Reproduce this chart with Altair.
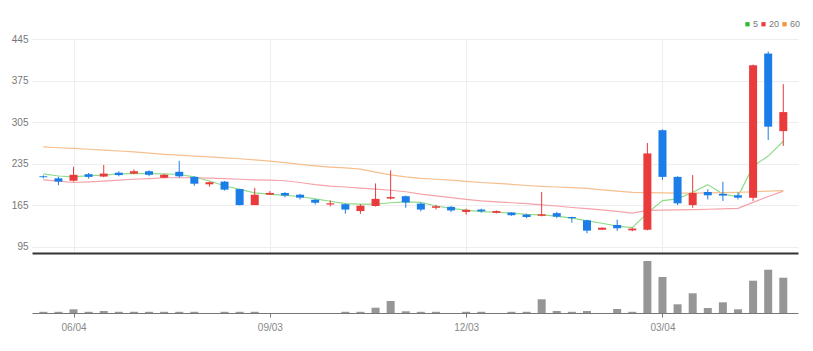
import altair as alt
import pandas as pd

dates = ["2018-05-21", "2018-05-28", "2018-06-04", "2018-06-11", "2018-06-18", "2018-06-25",
         "2018-07-02", "2018-07-09", "2018-07-16", "2018-07-23", "2018-07-30", "2018-08-06",
         "2018-08-13", "2018-08-20", "2018-08-27", "2018-09-03", "2018-09-10", "2018-09-17",
         "2018-09-24", "2018-10-01", "2018-10-08", "2018-10-15", "2018-10-22", "2018-10-29",
         "2018-11-05", "2018-11-12", "2018-11-19", "2018-11-26", "2018-12-03", "2018-12-10",
         "2018-12-17", "2018-12-24", "2018-12-31", "2019-01-07", "2019-01-14", "2019-01-21",
         "2019-01-28", "2019-02-04", "2019-02-11", "2019-02-18", "2019-02-25", "2019-03-04",
         "2019-03-11", "2019-03-18", "2019-03-25", "2019-04-01", "2019-04-08", "2019-04-15",
         "2019-04-22", "2019-04-29"]

opens = [214, 210.5, 206.5, 217.5, 213.5, 220, 218.5, 222.5, 211.5, 221.5,
         213, 200.5, 205, 192.5, 165.5, 183, 186, 183, 174.5, 166.5,
         167, 155.5, 164, 176.5, 180.5, 168, 161, 162.5, 154, 158,
         152.5, 153, 149.5, 147.5, 152, 145.5, 140, 124, 132, 123,
         124, 291.5, 213, 165.5, 187.5, 184.5, 182, 178, 420.5, 290]
closes = [212.5, 205, 216.5, 213, 218.5, 216, 222.5, 216.5, 216.5, 214,
          201.5, 204, 191.5, 165.5, 183, 186, 181.5, 178, 169.5, 168.5,
          158, 164.5, 176, 179, 170, 158, 163.5, 156.5, 157.5, 155,
          155.5, 148.5, 145.5, 150, 146, 143.5, 122.5, 127.5, 126.5, 126,
          252.5, 213, 168.5, 186, 182, 181.5, 178, 401, 297.5, 322]
highs = [215.5, 213, 230, 219.5, 233, 222.5, 225.5, 224, 218, 240,
         214, 205, 206, 193, 194.5, 189, 187.5, 184.5, 175.5, 173.5,
         168, 167, 202, 224, 181.5, 169.5, 166, 164, 159.5, 159.5,
         156.5, 153.5, 151, 187.5, 154, 146, 141, 128, 141, 127.5,
         270, 293, 214, 216, 192, 205, 187, 402, 424, 369]
lows = [210.5, 199, 205, 210, 212.5, 214, 217.5, 214, 210.5, 211.5,
        198, 196.5, 190, 165, 165.5, 182.5, 178.5, 175, 166.5, 163.5,
        151, 151, 163, 175, 161, 155, 158, 154, 149.5, 153,
        151.5, 147.5, 143.5, 146.5, 143.5, 136, 118, 123.5, 122, 121.5,
        123, 208, 165.5, 161, 175, 172.5, 175, 172.5, 275, 265]
volumes = [12, 12, 37, 12, 20, 12, 12, 12, 12, 12,
           12, 0, 12, 12, 12, 0, 0, 0, 0, 0,
           12, 12, 53, 120, 17, 12, 12, 0, 12, 12,
           0, 12, 12, 137, 20, 12, 20, 0, 40, 12,
           520, 360, 87, 197, 50, 107, 37, 323, 433, 353]
ma5 = [218, 214.5, 213, 215, 216, 218, 219, 218.5, 218, 217,
       213, 206, 198, 192, 186, 184, 182, 180, 176, 172,
       168, 167, 167, 169.5, 171, 170, 164, 160, 157, 154.5,
       153.5, 152, 150, 149, 147, 143.5, 139, 135, 130, 127.5,
       152, 173, 176, 187, 200, 184, 180, 231, 248, 273]
ma20 = [208, 206, 203.5, 204.5, 206, 207.5, 209, 210, 211.5, 211.5,
        211.5, 211, 210, 209, 208, 207.5, 206.5, 203.5, 200, 197.5,
        196, 194, 192.5, 190.5, 188, 184, 181, 178, 175, 172.5,
        171, 169.5, 168, 166, 164, 161.5, 159.5, 157.5, 155, 152,
        156.5, 157, 157.5, 158, 158.5, 159, 160, 170, 180, 189]
ma60 = [263.5, 262, 261, 259.5, 258, 256.5, 255, 253, 251, 249.5,
        248, 246.5, 245, 243.5, 241.5, 239.5, 237, 234, 231.5, 229.5,
        228, 226, 221, 216.5, 213, 210.5, 209, 207.5, 205.5, 203.5,
        202, 200.5, 198.5, 197, 196, 195, 193.5, 191, 189, 187,
        186.5, 186, 185.5, 185.5, 186, 186.5, 187, 188, 189, 190]
ma_names = ["5", "20", "60"]
y_ticks = [95, 165, 235, 305, 375, 445]

RED = "#e93a3c"
BLUE = "#1b7de8"
FONT = "Liberation Sans, Arial, sans-serif"

stamps = [d + "T00:00:00" for d in dates]
candles = pd.DataFrame({"date": stamps, "open": opens, "close": closes,
                        "high": highs, "low": lows, "volume": volumes})
candles["dir"] = ["up" if c >= o else "down" for o, c in zip(opens, closes)]

ma_rows = []
for name, series in zip(ma_names, [ma5, ma20, ma60]):
    for d, v in zip(stamps, series):
        ma_rows.append({"date": d, "ma": name, "value": v})
ma_df = pd.DataFrame(ma_rows)

x_domain = [alt.DateTime(year=2018, month=5, date=18, hours=1, minutes=40),
            alt.DateTime(year=2019, month=5, date=3, hours=12)]
x_ticks = [alt.DateTime(year=2018, month=6, date=4), alt.DateTime(year=2018, month=9, date=3),
           alt.DateTime(year=2018, month=12, date=3), alt.DateTime(year=2019, month=3, date=4)]

x_price = alt.X("date:T", scale=alt.Scale(domain=x_domain),
                axis=alt.Axis(values=x_ticks, labels=False, ticks=False, title=None,
                              domainColor="#333", domainWidth=2, grid=True,
                              gridColor="#eeeeee", minExtent=0, maxExtent=0))
y_scale = alt.Scale(domain=[84.9, 445], nice=False, zero=False)
y_axis = alt.Axis(values=y_ticks, title=None, ticks=False, domain=False, labelPadding=4,
                  minExtent=27, maxExtent=27, gridColor="#eeeeee", labelColor="#777",
                  labelFont=FONT, labelFontSize=10)

candle_color = alt.Color("dir:N", scale=alt.Scale(domain=["up", "down"], range=[RED, BLUE]),
                         legend=None)

base = alt.Chart(candles)
wicks = base.mark_rule(strokeWidth=1).encode(
    x=x_price, y=alt.Y("low:Q", scale=y_scale, axis=y_axis), y2="high:Q", color=candle_color)
bodies = base.mark_bar(size=8).encode(
    x=x_price, y=alt.Y("open:Q", scale=y_scale), y2="close:Q", color=candle_color)

lines = alt.Chart(ma_df).mark_line(strokeWidth=1.2).encode(
    x=x_price, y=alt.Y("value:Q", scale=y_scale),
    color=alt.Color("ma:N", scale=alt.Scale(domain=ma_names,
                                            range=["#8fdc8a", "#f5a3aa", "#f6bf8e"]),
                    legend=None),
    detail="ma:N")

legend_layer = alt.Chart(ma_df).mark_square(size=20, opacity=1).encode(
    x=x_price, y=alt.Y("value:Q", scale=y_scale),
    color=alt.Color("ma:N", scale=alt.Scale(domain=ma_names,
                                            range=["#2dbb2d", "#ee3b3f", "#f3923a"]),
                    legend=alt.Legend(orient="none", legendX=711, legendY=-19.5,
                                      direction="horizontal", title=None, padding=0,
                                      symbolType="square", symbolSize=18,
                                      symbolStrokeWidth=0, labelFontSize=9,
                                      labelFont=FONT, labelColor="#777",
                                      columnPadding=0, labelOffset=1))
).transform_filter("false")

price = alt.layer(lines, wicks, bodies, legend_layer).resolve_scale(
    color="independent").properties(width=766, height=214)

x_vol = alt.X("date:T", scale=alt.Scale(domain=x_domain),
              axis=alt.Axis(values=x_ticks, format="%m/%d", title=None, grid=False,
                            labelColor="#888", labelFont=FONT, labelFontSize=10,
                            domainColor="#777", tickColor="#777", tickSize=4,
                            labelPadding=5))
volume = alt.Chart(candles).mark_bar(size=8, color="#969696").encode(
    x=x_vol,
    y=alt.Y("volume:Q", scale=alt.Scale(domain=[0, 570]),
            axis=alt.Axis(labels=False, ticks=False, domain=False, grid=False, title=None,
                          minExtent=27, maxExtent=27))
).properties(width=766, height=57)

chart = alt.vconcat(price, volume, spacing=3).configure_view(stroke=None).properties(
    padding={"left": 5, "top": 19, "right": 5, "bottom": 5}, background="white")

chart.save("out.html", embed_options={"renderer": "svg", "actions": False})
